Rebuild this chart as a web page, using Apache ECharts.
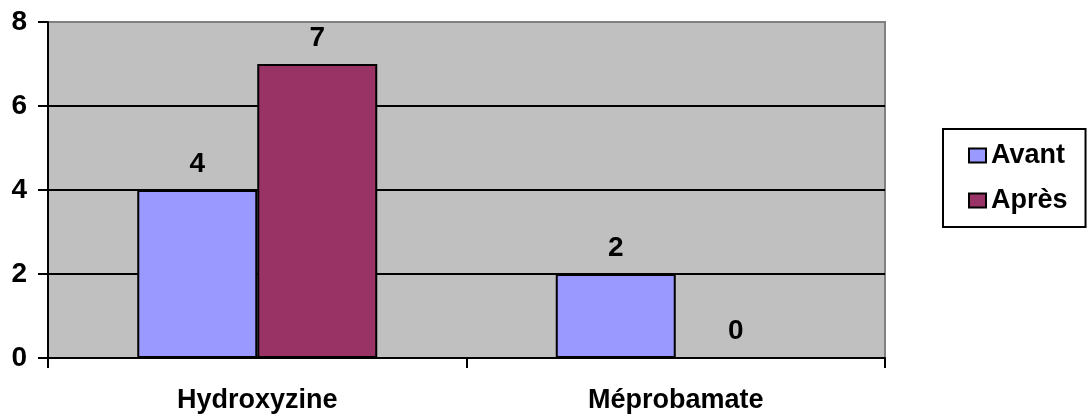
<!DOCTYPE html>
<html>
<head>
<meta charset="utf-8">
<script src="https://cdn.jsdelivr.net/npm/echarts@6/dist/echarts.min.js"></script>
<style>html,body{margin:0;padding:0;background:#fff;}#c{width:1089px;height:414px;}</style>
</head>
<body>
<div id="c"></div>
<script>
const categories = ["Hydroxyzine", "Méprobamate"];
const avant = [4, 2];
const apres = [7, 0];
const seriesNames = ["Avant", "Après"];
const yTicks = {min: 0, max: 8, interval: 2};

const FONT = '"Liberation Sans", Arial, sans-serif';
const chart = echarts.init(document.getElementById('c'));
chart.setOption({
  animation: false,
  backgroundColor: '#ffffff',
  grid: {
    left: 48, right: 204, top: 22, bottom: 56,
    show: true, backgroundColor: '#c0c0c0', borderColor: '#808080', borderWidth: 2
  },
  legend: {
    orient: 'vertical',
    left: 943, top: 129,
    data: seriesNames,
    backgroundColor: '#ffffff',
    borderColor: '#000', borderWidth: 2,
    padding: [13, 18, 13, 25],
    itemWidth: 17, itemHeight: 14, itemGap: 18,
    icon: 'rect',
    itemStyle: {borderColor: '#000', borderWidth: 2},
    textStyle: {fontFamily: FONT, fontWeight: 'bold', fontSize: 27, color: '#000'}
  },
  xAxis: {
    type: 'category',
    data: categories,
    axisLine: {lineStyle: {color: '#000', width: 2}},
    axisTick: {show: true, length: 10, lineStyle: {color: '#000', width: 2}},
    axisLabel: {fontFamily: FONT, fontWeight: 'bold', fontSize: 27, color: '#000', margin: 29}
  },
  yAxis: {
    type: 'value',
    min: yTicks.min, max: yTicks.max, interval: yTicks.interval,
    axisLine: {show: true, lineStyle: {color: '#000', width: 2}},
    axisTick: {show: true, length: 10, lineStyle: {color: '#000', width: 2}},
    splitLine: {show: true, showMaxLine: false, showMinLine: false, lineStyle: {color: '#000', width: 2}},
    axisLabel: {fontFamily: FONT, fontWeight: 'bold', fontSize: 28, color: '#000', margin: 21}
  },
  series: [
    {
      name: seriesNames[0], type: 'bar', data: avant, barWidth: 120, barGap: '0%',
      itemStyle: {color: '#9999ff', borderColor: '#000', borderWidth: 2},
      label: {show: true, position: 'top', distance: 12, fontFamily: FONT, fontWeight: 'bold', fontSize: 28, color: '#000'}
    },
    {
      name: seriesNames[1], type: 'bar', data: apres, barWidth: 120, barGap: '0%',
      itemStyle: {color: '#993366', borderColor: '#000', borderWidth: 2},
      label: {show: true, position: 'top', distance: 12, fontFamily: FONT, fontWeight: 'bold', fontSize: 28, color: '#000'}
    }
  ]
});
</script>
</body>
</html>
